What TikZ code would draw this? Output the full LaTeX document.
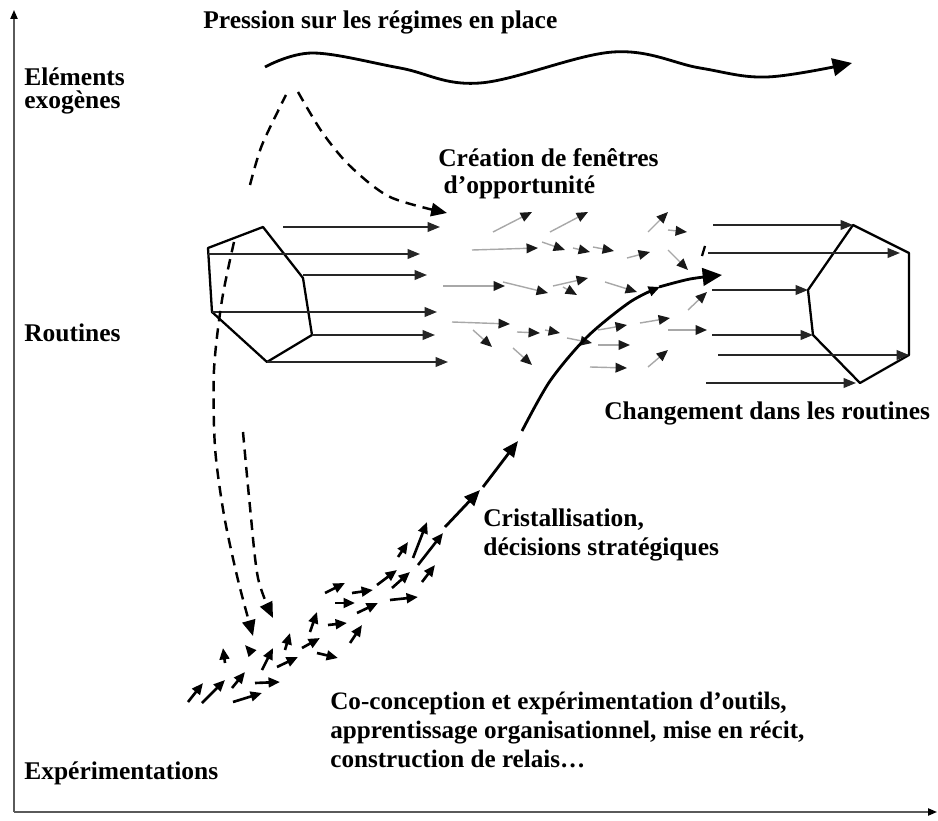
\documentclass[tikz,border=0pt]{standalone}
\usepackage{fontspec}
\setmainfont{Liberation Serif}
\usetikzlibrary{arrows.meta,positioning}
\definecolor{axisgray}{HTML}{5A5A5A}
\definecolor{flowgray}{HTML}{A8A8A8}
\tikzset{
  >={Triangle[length=7pt,width=5.5pt]},
  lbl/.style={font=\bfseries\fontsize{14.5}{17}\selectfont,inner sep=0pt,align=left},
  axis/.style={draw=axisgray,line width=0.9pt,-{Triangle[length=5pt,width=4pt,color=black]}},
  hexa/.style={draw=black,line width=1.3pt,line join=round},
  rarr/.style={->,draw=black!85,line width=0.9pt},
  garr/.style={-{Triangle[length=6.5pt,width=5.5pt,color=black!90]},draw=flowgray,line width=0.8pt},
  karr/.style={-{Triangle[length=6.5pt,width=5.5pt]},draw=black,line width=1.5pt},
  dline/.style={draw=black,line width=1.4pt,dash pattern=on 6pt off 4pt},
  darr/.style={dline,-{Triangle[length=9pt,width=7.5pt]}},
  marr/.style={draw=black,line width=1.6pt,-{Triangle[length=11pt,width=10pt]}},
}

\begin{document}
\begin{tikzpicture}[x=0.02cm,y=-0.02cm]
\useasboundingbox (0,0) rectangle (938,821);

% axes
\coordinate (origin) at (14,812);
\coordinate (ytop) at (14,10);
\coordinate (xend) at (937,812);
\draw[axis] (origin) -- (ytop);
\draw[axis] (origin) -- (xend);

% labels
\node[lbl,anchor=west] (pression) at (203,22) {Pression sur les régimes en place};
\node[lbl,anchor=west,font=\bfseries\fontsize{14.5}{13.5}\selectfont] (exogenes) at (24,91) {Eléments\\exogènes};
\node[lbl,anchor=west] (routines) at (24,333) {Routines};
\node[lbl,anchor=west] (experim) at (24,773) {Expérimentations};
\node[lbl,anchor=west,font=\bfseries\fontsize{14.5}{15.5}\selectfont] (fenetres) at (438,174) {Création de fenêtres\\\hspace{3pt}d’opportunité};
\node[lbl,anchor=west] (changement) at (604,413) {Changement dans les routines};
\node[lbl,anchor=west] (cristal) at (483,535) {Cristallisation,\\décisions stratégiques};
\node[lbl,anchor=west,font=\bfseries\fontsize{14.3}{16.5}\selectfont] (coconception) at (330,730) {Co-conception et expérimentation d’outils,\\apprentissage organisationnel, mise en récit,\\construction de relais…};

% pression exogene
\draw[marr] plot[smooth,tension=0.6] coordinates {(265,67) (313,53) (400,68) (480,83) (613,52) (700,68) (767,77) (852,63)};
\draw[dline] plot[smooth] coordinates {(250,185) (262,145) (286,95)};
\draw[darr] plot[smooth] coordinates {(298,92) (322,132) (350,166) (390,197) (447,213)};

% routines de depart
\coordinate (L1) at (208,248);
\coordinate (L2) at (263,227);
\coordinate (L3) at (303,278);
\coordinate (L4) at (312,335);
\coordinate (L5) at (267,362);
\coordinate (L6) at (212,312);
\draw[hexa] (L1) -- (L2) -- (L3) -- (L4) -- (L5) -- (L6) -- cycle;
\draw[rarr] (283,227) -- (440,227);
\draw[rarr] (L1 |- 0,254) -- (420,254);
\draw[rarr] (L3 |- 0,275) -- (427,275);
\draw[rarr] (L6) -- (437,312);
\draw[rarr] (L4) -- (435,335);
\draw[rarr] (L5) -- (448,362);

% routines transformees
\coordinate (R1) at (853,225);
\coordinate (R2) at (909,253);
\coordinate (R3) at (909,355);
\coordinate (R4) at (860,383);
\coordinate (R5) at (813,335);
\coordinate (R6) at (808,290);
\draw[hexa] (R1) -- (R2) -- (R3) -- (R4) -- (R5) -- (R6) -- cycle;
\draw[rarr] (713,225) -- (R1);
\draw[rarr] (708,253) -- (900,253);
\draw[rarr] (712,290) -- (R6);
\draw[rarr] (712,335) -- (R5);
\draw[rarr] (718,355) -- (R3);
\draw[rarr] (706,383) -- (856,383);
\draw[line width=1.3pt] (702,256) -- (705,246);

% fenetres d'opportunite
\foreach \xa/\ya/\xb/\yb in {493/232/532/212, 550/232/588/212, 472/250/538/248, 542/242/565/250,
  573/248/590/252, 593/247/614/251, 627/258/650/252, 648/232/668/212, 668/230/687/232,
  668/250/688/270, 443/286/505/286, 503/282/548/293, 553/286/588/278, 563/287/577/295,
  605/282/637/292, 452/322/510/324, 473/330/492/347, 517/332/540/333, 545/330/560/333,
  567/338/592/343, 513/348/532/365, 598/330/627/325, 598/345/630/345, 590/367/627/368,
  640/323/670/318, 668/330/707/330, 648/367/668/350, 688/310/707/292}
  \draw[garr] (\xa,\ya) -- (\xb,\yb);

% experimentations
\foreach \xa/\ya/\xb/\yb in {188/702/203/683, 202/703/225/680, 232/688/245/672, 233/702/262/693,
  255/683/280/682, 225/663/223/648, 252/653/245/645, 262/670/273/648, 277/667/298/657,
  285/650/290/633, 302/648/320/638, 317/653/338/658, 310/632/317/612, 328/625/347/623,
  350/643/362/625, 357/613/378/603, 335/603/355/603, 325/593/345/583, 352/593/373/590,
  377/585/397/570, 390/600/418/597, 392/588/410/572, 422/582/435/565, 398/557/408/542,
  413/558/427/522, 418/565/443/533}
  \draw[karr] (\xa,\ya) -- (\xb,\yb);

% cristallisation
\draw[karr,-{Triangle[length=9pt,width=7.5pt]},line width=1.6pt] (445,527) -- (480,490);
\draw[karr,-{Triangle[length=9pt,width=7.5pt]},line width=1.6pt] (483,487) -- (518,441);
\draw[karr,line width=1.6pt] plot[smooth] coordinates {(522,431) (550,381) (587,337) (630,302) (660,287)};
\draw[marr] plot[smooth] coordinates {(659,287) (690,279) (722,275)};

% descente vers l'experimentation
\draw[darr] plot[smooth] coordinates {(234,242) (222,300) (214,370) (215,447) (224,515) (238,580) (253,636)};
\draw[darr] plot[smooth] coordinates {(243,432) (250,507) (258,578) (273,618)};
\end{tikzpicture}
\end{document}
